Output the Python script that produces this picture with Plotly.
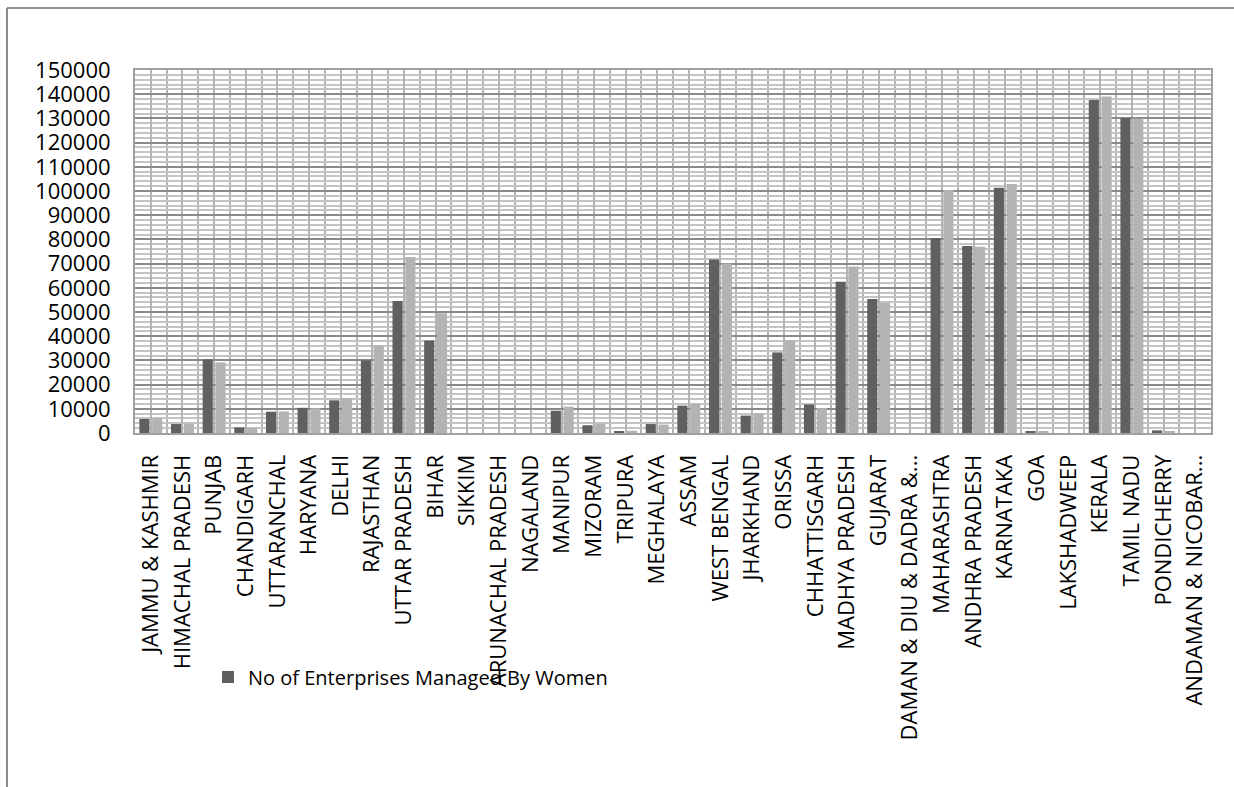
import plotly.graph_objects as go

categories = [
    "JAMMU & KASHMIR", "HIMACHAL PRADESH", "PUNJAB", "CHANDIGARH", "UTTARANCHAL",
    "HARYANA", "DELHI", "RAJASTHAN", "UTTAR PRADESH", "BIHAR", "SIKKIM",
    "ARUNACHAL PRADESH", "NAGALAND", "MANIPUR", "MIZORAM", "TRIPURA", "MEGHALAYA",
    "ASSAM", "WEST BENGAL", "JHARKHAND", "ORISSA", "CHHATTISGARH", "MADHYA PRADESH",
    "GUJARAT", "DAMAN & DIU & DADRA &...", "MAHARASHTRA", "ANDHRA PRADESH",
    "KARNATAKA", "GOA", "LAKSHADWEEP", "KERALA", "TAMIL NADU", "PONDICHERRY",
    "ANDAMAN & NICOBAR...",
]

women_enterprises = [
    5800, 3700, 30400, 2300, 8800, 10400, 13500, 30000, 54500, 38200, 0,
    0, 0, 9200, 3200, 700, 3700, 11300, 71700, 7200, 33300, 11800, 62500,
    55400, 0, 80600, 77300, 101300, 550, 0, 137600, 130200, 1100, 0,
]

second_series = [
    6200, 3850, 29200, 2200, 8900, 10200, 14400, 36300, 72700, 49500, 0,
    0, 0, 10900, 3850, 950, 3450, 12100, 70000, 8200, 38200, 10300, 68800,
    53700, 0, 100400, 77000, 102900, 550, 0, 139100, 129900, 700, 0,
]

y_ticks = list(range(0, 150001, 10000))

x_pos = list(range(len(categories)))

fig = go.Figure()
fig.add_trace(go.Bar(
    x=x_pos, y=women_enterprises, name="No of Enterprises Managed By Women",
    marker=dict(color="#606060", line=dict(width=0)),
))
fig.add_trace(go.Bar(
    x=x_pos, y=second_series, name="Series 2", showlegend=False,
    marker=dict(color="#b3b3b3", line=dict(width=0)),
))

# plot area in pixels: x 135..1211, y 70..433
L, R, T, B = 135, 1211, 70, 433
W, H = 1234, 787
def px_x(p):
    return (p - L) / (R - L)
def px_y(p):
    return (B - p) / (B - T)

fig.update_layout(
    width=W, height=H, autosize=False,
    margin=dict(l=L, r=W - R, t=T, b=H - B),
    paper_bgcolor="white", plot_bgcolor="white",
    font=dict(family="Open Sans, Noto Sans, sans-serif", color="black"),
    barmode="group", bargap=0.19, bargroupgap=0.21,
    showlegend=True,
    legend=dict(
        x=px_x(208), y=px_y(677), xanchor="left", yanchor="middle",
        orientation="h", bgcolor="rgba(0,0,0,0)",
        font=dict(size=20, color="black"),
    ),
    xaxis=dict(
        range=[-0.5, len(categories) - 0.5],
        tickmode="array", tickvals=x_pos, ticktext=categories,
        tickangle=-90, tickfont=dict(size=22, color="black"),
        ticks="", ticklabelstandoff=11,
        showgrid=True, gridcolor="#b4b4b4", gridwidth=2,
        minor=dict(tickmode="linear", tick0=-0.5, dtick=1, showgrid=True,
                   gridcolor="#b4b4b4", gridwidth=2, ticks=""),
        showline=True, linecolor="#a0a0a0", linewidth=2, mirror=True,
        zeroline=False, fixedrange=True,
    ),
    yaxis=dict(
        range=[0, 150000],
        tickmode="array", tickvals=y_ticks, ticktext=[str(v) for v in y_ticks],
        tickfont=dict(size=22, color="black"),
        ticks="", ticklabelstandoff=18,
        showgrid=True, gridcolor="#8a8a8a", gridwidth=1.5,
        minor=dict(tickmode="linear", tick0=0, dtick=2000, showgrid=True,
                   gridcolor="#c4c4c4", gridwidth=1.5, ticks=""),
        showline=True, linecolor="#a0a0a0", linewidth=2, mirror=True,
        zeroline=False, fixedrange=True,
    ),
    shapes=[
        dict(type="line", xref="paper", yref="paper",
             x0=px_x(7), x1=px_x(1240), y0=px_y(8), y1=px_y(8),
             line=dict(color="#8c8c8c", width=2)),
        dict(type="line", xref="paper", yref="paper",
             x0=px_x(7), x1=px_x(7), y0=px_y(8), y1=px_y(800),
             line=dict(color="#8c8c8c", width=2)),
    ],
)

fig.write_html("out.html")
